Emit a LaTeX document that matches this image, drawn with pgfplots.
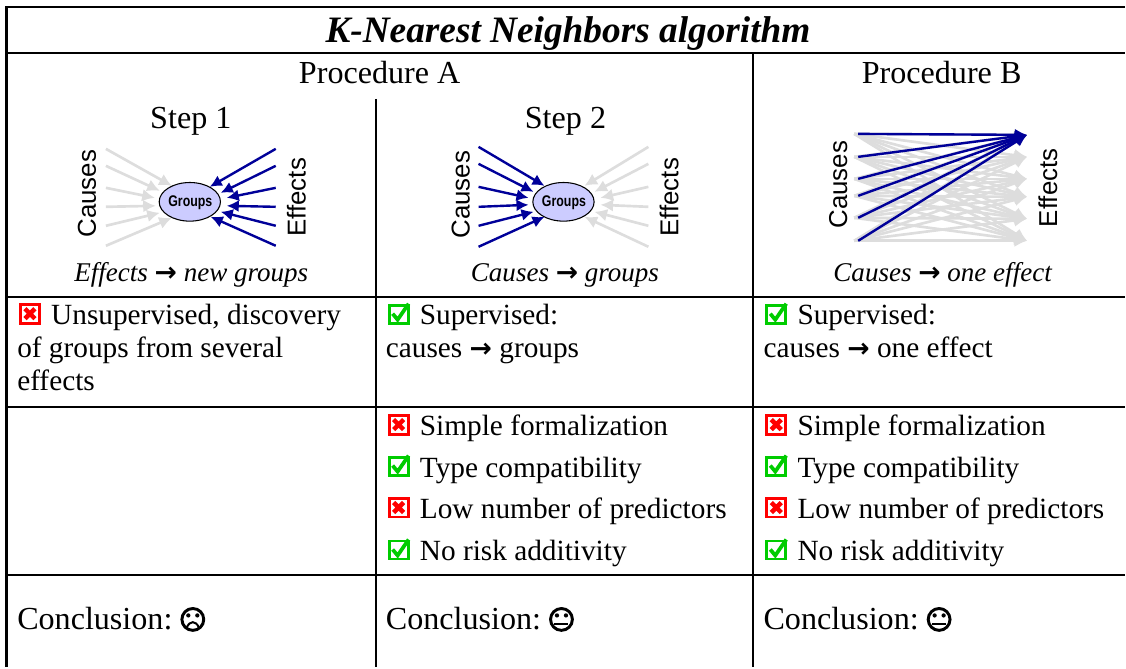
\documentclass[border=0pt]{standalone}
\usepackage{fontspec}
\usepackage{pgfplots}
\pgfplotsset{compat=1.18}
\usetikzlibrary{arrows.meta}
\setmainfont{Liberation Serif}
\setsansfont{Liberation Sans}
\newfontfamily\djsans{DejaVu Sans}
\definecolor{navy}{RGB}{0,0,153}
\definecolor{lgray}{RGB}{221,221,221}
\definecolor{lav}{RGB}{204,204,255}
\definecolor{xred}{RGB}{255,0,0}
\definecolor{cgreen}{RGB}{0,204,0}
\newcommand{\body}{\fontsize{22}{26}\selectfont}
\newcommand{\bigf}{\fontsize{24.1}{28}\selectfont}
\newcommand{\capt}{\fontsize{20.3}{22}\selectfont\itshape}
\newcommand{\sans}{\fontsize{19.4}{22}\selectfont\sffamily}
\newcommand{\blue}[2]{\addplot[forget plot,no marks,draw=navy,line width=1.8pt,-{Latex[length=9pt,width=9pt]}] coordinates {#1 #2};}
\newcommand{\grey}[2]{\addplot[forget plot,no marks,draw=lgray,line width=2pt,-{Latex[length=9.5pt,width=9.5pt]}] coordinates {#1 #2};}
\newcommand{\tline}[2]{\addplot[forget plot,no marks,black,line width=1.6pt] coordinates {#1 #2};}
\newcommand{\txt}[3]{\node[anchor=base west,inner sep=0pt] at (axis cs:#1,#2) {\body #3};}
\newcommand{\ctr}[4]{\node[anchor=base,inner sep=0pt] at (axis cs:#1,#2) {#3{}#4};}
\newcommand{\rot}[3]{\node[anchor=base,rotate=90,inner sep=0pt] at (axis cs:#1,#2) {\sans #3};}
\newcommand{\arr}{{\djsans\bfseries\fontsize{20}{20}\selectfont\upshape→}}
\newcommand{\nobox}[2]{%
  \draw[xred,fill=white,line width=2.2pt] (axis cs:#1+1.5,#2-20.5) rectangle (axis cs:#1+20.5,#2-1.5);
  \draw[xred,line width=3.4pt] (axis cs:#1+6,#2-16) -- (axis cs:#1+16,#2-6) (axis cs:#1+6,#2-6) -- (axis cs:#1+16,#2-16);}
\newcommand{\okbox}[2]{%
  \draw[cgreen,fill=white,line width=2.2pt] (axis cs:#1+1.5,#2-19.5) rectangle (axis cs:#1+20.5,#2-1.5);
  \draw[cgreen,line width=2.8pt] (axis cs:#1+5,#2-11) -- (axis cs:#1+10,#2-5) -- (axis cs:#1+21,#2-21);}
\newcommand{\face}[3]{%
  \draw[black,line width=2.2pt] (axis cs:#1,#2) circle[radius=8.2pt];
  \fill[black] (axis cs:#1-4.5,#2-4) circle[radius=1.6pt] (axis cs:#1+4.5,#2-4) circle[radius=1.6pt];
  #3}
\begin{document}
\begin{tikzpicture}
\begin{axis}[scale only axis,width=844.5pt,height=501pt,xmin=0,xmax=1126,ymin=0,ymax=668,y dir=reverse,axis lines=none,clip=false]
\path (axis cs:0,0) -- (axis cs:1126,668);
% table rules
\tline{(6.5,7)}{(1126,7)}
\tline{(6.5,53)}{(1126,53)}
\tline{(6.5,297)}{(1126,297)}
\tline{(6.5,407.5)}{(1126,407.5)}
\tline{(6.5,575.5)}{(1126,575.5)}
\tline{(6.5,6)}{(6.5,668)}
\tline{(376,99)}{(376,668)}
\tline{(754,53)}{(754,668)}
% headers
\ctr{568.5}{43}{\fontsize{28}{30}\selectfont\bfseries\itshape}{K-Nearest Neighbors algorithm}
\ctr{380}{84}{\bigf}{Procedure A}
\ctr{942.5}{84}{\bigf}{Procedure B}
\ctr{191}{129}{\bigf}{Step 1}
\ctr{566}{129}{\bigf}{Step 2}
% step 1
\grey{(106,149)}{(172,186)}
\grey{(106,166)}{(160,191)}
\grey{(106,188)}{(155,198)}
\grey{(106,207)}{(156,206)}
\grey{(106,226)}{(160,213)}
\grey{(106,246)}{(172,218)}
\blue{(276,149)}{(210,187)}
\blue{(276,166)}{(221,193)}
\blue{(276,188)}{(227,198)}
\blue{(276,207)}{(227,206)}
\blue{(276,226)}{(221,212)}
\blue{(276,246)}{(211,217)}
\draw[black,fill=lav,line width=0.8pt] (axis cs:190,202) ellipse[x radius=23pt,y radius=14.5pt];
\node[inner sep=0pt,xscale=.8] at (axis cs:190.5,202.5) {\fontsize{11.6}{12}\selectfont\sffamily\bfseries Groups};
\rot{96}{194}{Causes}
\rot{306}{197.5}{Effects}
\ctr{191.5}{282}{\capt}{Effects \arr\ new groups}
% step 2
\blue{(479,147)}{(545,186)}
\blue{(479,164)}{(534,192)}
\blue{(479,187)}{(529,198)}
\blue{(479,207)}{(529,205)}
\blue{(479,226)}{(534,212)}
\blue{(479,247)}{(545,217)}
\grey{(649,147)}{(585,186)}
\grey{(649,164)}{(595,192)}
\grey{(649,187)}{(601,198)}
\grey{(649,207)}{(601,205)}
\grey{(649,226)}{(595,212)}
\grey{(649,247)}{(585,217)}
\draw[black,fill=lav,line width=0.8pt] (axis cs:564,202) ellipse[x radius=23pt,y radius=14.5pt];
\node[inner sep=0pt,xscale=.8] at (axis cs:564.5,202.5) {\fontsize{11.6}{12}\selectfont\sffamily\bfseries Groups};
\rot{470}{195}{Causes}
\rot{679}{197.5}{Effects}
\ctr{565.5}{282}{\capt}{Causes \arr\ groups}
% procedure B
\grey{(855,134)}{(1028,135)}\grey{(855,134)}{(1028,157)}\grey{(855,134)}{(1028,179)}\grey{(855,134)}{(1028,197)}\grey{(855,134)}{(1028,219)}\grey{(855,134)}{(1028,241)}
\grey{(855,157)}{(1028,135)}\grey{(855,157)}{(1028,157)}\grey{(855,157)}{(1028,179)}\grey{(855,157)}{(1028,197)}\grey{(855,157)}{(1028,219)}\grey{(855,157)}{(1028,241)}
\grey{(855,179)}{(1028,135)}\grey{(855,179)}{(1028,157)}\grey{(855,179)}{(1028,179)}\grey{(855,179)}{(1028,197)}\grey{(855,179)}{(1028,219)}\grey{(855,179)}{(1028,241)}
\grey{(855,196)}{(1028,135)}\grey{(855,196)}{(1028,157)}\grey{(855,196)}{(1028,179)}\grey{(855,196)}{(1028,197)}\grey{(855,196)}{(1028,219)}\grey{(855,196)}{(1028,241)}
\grey{(855,218)}{(1028,135)}\grey{(855,218)}{(1028,157)}\grey{(855,218)}{(1028,179)}\grey{(855,218)}{(1028,197)}\grey{(855,218)}{(1028,219)}\grey{(855,218)}{(1028,241)}
\grey{(855,241)}{(1028,135)}\grey{(855,241)}{(1028,157)}\grey{(855,241)}{(1028,179)}\grey{(855,241)}{(1028,197)}\grey{(855,241)}{(1028,219)}\grey{(855,241)}{(1028,241)}
\blue{(859,134)}{(1028,135)}
\blue{(859,157)}{(1028,135)}
\blue{(859,179)}{(1028,135)}
\blue{(859,196)}{(1028,135)}
\blue{(859,218)}{(1028,135)}
\blue{(859,241)}{(1028,135)}
\rot{848}{185}{Causes}
\rot{1058}{188}{Effects}
\ctr{943.5}{282}{\capt}{Causes \arr\ one effect}
% row 2
\nobox{19}{325}\txt{51}{325}{Unsupervised, discovery}
\txt{17}{358}{of groups from several}
\txt{17}{391}{effects}
\okbox{388}{325}\txt{420}{325}{Supervised:}
\txt{386}{358}{causes \arr\ groups}
\okbox{766}{325}\txt{798}{325}{Supervised:}
\txt{764}{358}{causes \arr\ one effect}
% row 3
\nobox{388}{436}\txt{420}{436}{Simple formalization}
\okbox{388}{477}\txt{420}{478}{Type compatibility}
\nobox{388}{519}\txt{420}{519}{Low number of predictors}
\okbox{388}{561}\txt{420}{561}{No risk additivity}
\nobox{766}{436}\txt{798}{436}{Simple formalization}
\okbox{766}{477}\txt{798}{478}{Type compatibility}
\nobox{766}{519}\txt{798}{519}{Low number of predictors}
\okbox{766}{561}\txt{798}{561}{No risk additivity}
% conclusions
\node[anchor=base west,inner sep=0pt] at (axis cs:17,630) {\bigf Conclusion:};
\node[anchor=base west,inner sep=0pt] at (axis cs:386,630) {\bigf Conclusion:};
\node[anchor=base west,inner sep=0pt] at (axis cs:764,630) {\bigf Conclusion:};
\face{193}{620}{\draw[black,line width=1.5pt] (axis cs:187,628) .. controls (axis cs:190,621) and (axis cs:196,621) .. (axis cs:199,628);}
\face{562}{620}{\draw[black,line width=1.5pt] (axis cs:555,625) -- (axis cs:569,625);}
\face{940}{620}{\draw[black,line width=1.5pt] (axis cs:933,625) -- (axis cs:947,625);}
\end{axis}
\end{tikzpicture}
\end{document}
